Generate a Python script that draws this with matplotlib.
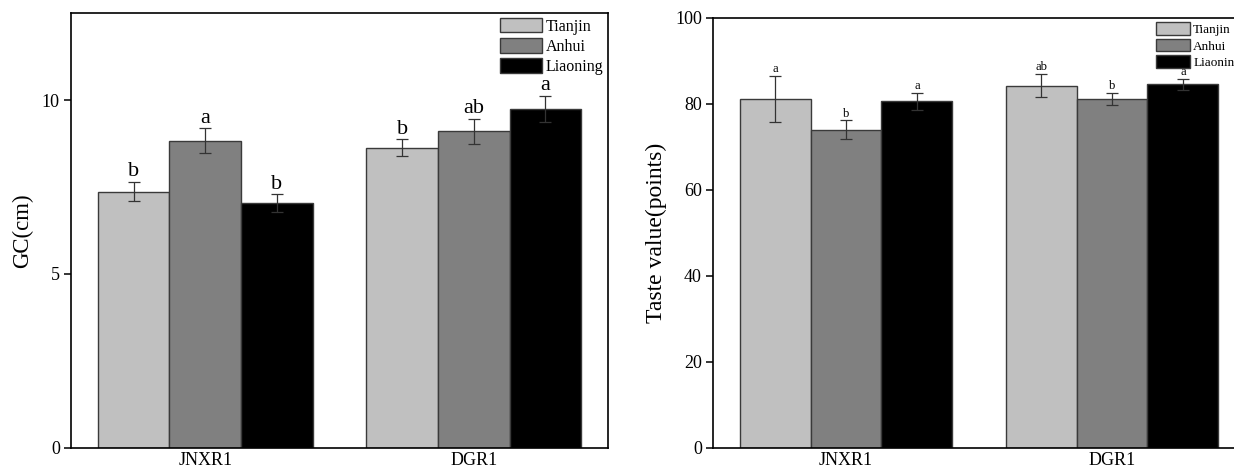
import matplotlib
matplotlib.use("Agg")
import matplotlib.pyplot as plt
import numpy as np

plt.rcParams['font.family'] = ['Liberation Serif', 'DejaVu Serif']

groups = ['JNXR1', 'DGR1']
sites = ['Tianjin', 'Anhui', 'Liaoning']
colors = ['#c0c0c0', '#808080', '#000000']

# GC (cm)
gc_mean = [[7.37, 8.63], [8.83, 9.10], [7.04, 9.75]]
gc_err = [[0.28, 0.24], [0.36, 0.37], [0.25, 0.37]]
gc_letters = [['b', 'b'], ['a', 'ab'], ['b', 'a']]

# taste value (points)
taste_mean = [[81.2, 84.3], [74.0, 81.2], [80.6, 84.6]]
taste_err = [[5.4, 2.7], [2.2, 1.45], [2.0, 1.3]]
taste_letters = [['a', 'ab'], ['b', 'b'], ['a', 'a']]

fig = plt.figure(figsize=(12.34, 4.70), dpi=100)
ax1 = fig.add_axes([71 / 1234, 22.3 / 470, 537 / 1234, 434.4 / 470])
ax2 = fig.add_axes([713 / 1234, 22 / 470, 532 / 1234, 430 / 470])

x = np.arange(len(groups))
w = 0.8 / 3


def draw(ax, means, errs, letters, ylim, yticks, ylabel, ylabel_size, letter_size,
         leg_size, leg_hl, leg_hh):
    for i in range(3):
        pos = x + (i - 1) * w
        ax.bar(pos, means[i], w, color=colors[i], edgecolor='#3a3a3a', linewidth=1.0,
               label=sites[i], zorder=2)
        ax.errorbar(pos, means[i], yerr=errs[i], fmt='none', ecolor='#333333',
                    elinewidth=0.9, capsize=4, capthick=0.9, zorder=3)
        for j in range(len(groups)):
            ax.annotate(letters[i][j], (pos[j], means[i][j] + errs[i][j]),
                        xytext=(0, 0.5), textcoords='offset points',
                        ha='center', va='bottom', fontsize=letter_size)
    ax.set_xlim(-0.5, 1.5)
    ax.set_ylim(*ylim)
    ax.set_yticks(yticks)
    ax.set_xticks(x)
    ax.set_xticklabels(groups)
    ax.tick_params(axis='y', direction='out', length=5, width=1.1, labelsize=13, pad=3)
    ax.tick_params(axis='x', length=0, labelsize=13, pad=3)
    for s in ax.spines.values():
        s.set_linewidth(1.2)
    ax.set_ylabel(ylabel, fontsize=ylabel_size, labelpad=6)
    ax.legend(loc='upper right', frameon=False, fontsize=leg_size, borderaxespad=0.1,
              handlelength=leg_hl, handleheight=leg_hh, handletextpad=0.25,
              labelspacing=0.22, borderpad=0.2)


draw(ax1, gc_mean, gc_err, gc_letters, (0, 12.5), [0, 5, 10], 'GC(cm)', 16.5, 16,
     11.5, 2.6, 1.0)
draw(ax2, taste_mean, taste_err, taste_letters, (0, 100), [0, 20, 40, 60, 80, 100],
     'Taste value(points)', 17, 9, 9.5, 2.6, 1.1)

fig.savefig('out.png', dpi=100)
